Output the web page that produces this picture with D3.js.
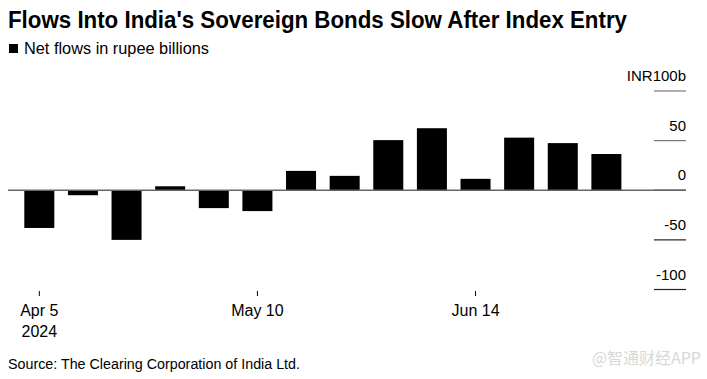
<!DOCTYPE html>
<html>
<head>
<meta charset="utf-8">
<script src="https://cdn.jsdelivr.net/npm/d3@7"></script>
<style>
  html, body { margin: 0; padding: 0; background: #fff; }
  svg { display: block; }
</style>
</head>
<body>
<svg id="chart" width="707" height="379"></svg>
<script>
const weeks = ["2024-04-05","2024-04-12","2024-04-19","2024-04-26","2024-05-03","2024-05-10","2024-05-17","2024-05-24","2024-05-31","2024-06-07","2024-06-14","2024-06-21","2024-06-28","2024-07-05"];
const netFlows = [-38, -5, -50, 4, -18, -21, 19.5, 14.5, 50.5, 62.5, 11.5, 53, 47.5, 36.5];
const yTicks = [100, 50, 0, -50, -100];
const yTickLabels = ["INR100b", "50", "0", "-50", "-100"];
const xTickWeeks = ["2024-04-05", "2024-05-10", "2024-06-14"];
const xTickLabels = [["Apr 5", "2024"], ["May 10"], ["Jun 14"]];
const title = "Flows Into India's Sovereign Bonds Slow After Index Entry";
const legendLabel = "Net flows in rupee billions";
const source = "Source: The Clearing Corporation of India Ltd.";
const watermark = "@智通财经APP";

const svg = d3.select("#chart");
const narrow = "'Liberation Sans Narrow', 'Arial Narrow', 'Liberation Sans', Arial, sans-serif";
const sans = "'Liberation Sans', Arial, sans-serif";

const x = d3.scaleBand().domain(weeks).range([17.5, 628.2]).paddingInner(0.312).paddingOuter(0.156);
const y = d3.scaleLinear().domain([-100, 100]).range([289.5, 91]);

// Title
svg.append("text").attr("x", 8).attr("y", 28)
  .attr("font-family", narrow).attr("font-weight", "bold").attr("font-size", 23.5)
  .attr("textLength", 619).attr("lengthAdjust", "spacingAndGlyphs")
  .attr("fill", "#000").text(title);

// Legend
svg.append("rect").attr("x", 9).attr("y", 44).attr("width", 9).attr("height", 9).attr("fill", "#000");
svg.append("text").attr("x", 24).attr("y", 54)
  .attr("font-family", narrow).attr("font-size", 16.5)
  .attr("textLength", 185).attr("lengthAdjust", "spacingAndGlyphs")
  .attr("fill", "#000").text(legendLabel);

// Y gridline stubs + labels
const yg = svg.append("g");
yTicks.forEach((t, i) => {
  yg.append("line").attr("x1", 654).attr("x2", 686)
    .attr("y1", y(t)).attr("y2", y(t))
    .attr("stroke", t > 0 ? "#777" : "#222").attr("stroke-width", 1.2);
  yg.append("text").attr("x", 686).attr("y", y(t) - 10)
    .attr("text-anchor", "end").attr("font-family", sans).attr("font-size", 15)
    .attr("fill", "#000").text(yTickLabels[i]);
});

// Bars
svg.append("g").selectAll("rect").data(weeks).join("rect")
  .attr("x", d => x(d))
  .attr("width", x.bandwidth())
  .attr("y", (d, i) => y(Math.max(0, netFlows[i])))
  .attr("height", (d, i) => Math.abs(y(netFlows[i]) - y(0)))
  .attr("fill", "#000");

// Zero line
svg.append("line").attr("x1", 8).attr("x2", 686).attr("y1", y(0)).attr("y2", y(0))
  .attr("stroke", "#666").attr("stroke-width", 1.5);

// X ticks
const xg = svg.append("g");
xTickWeeks.forEach((w, i) => {
  const cx = x(w) + x.bandwidth() / 2;
  xg.append("line").attr("x1", cx).attr("x2", cx).attr("y1", 291).attr("y2", 296)
    .attr("stroke", "#000").attr("stroke-width", 1);
  xTickLabels[i].forEach((lab, j) => {
    xg.append("text").attr("x", cx).attr("y", 316 + j * 21)
      .attr("text-anchor", "middle").attr("font-family", narrow).attr("font-size", 16)
      .attr("fill", "#000").text(lab);
  });
});

// Source
svg.append("text").attr("x", 8).attr("y", 369)
  .attr("font-family", narrow).attr("font-size", 15.5)
  .attr("textLength", 292).attr("lengthAdjust", "spacingAndGlyphs")
  .attr("fill", "#000").text(source);

// Watermark
svg.append("text").attr("x", 701).attr("y", 364).attr("text-anchor", "end")
  .attr("font-family", "'Noto Sans CJK SC', sans-serif").attr("font-size", 16)
  .attr("fill", "#d8d8d8").text(watermark);
</script>
</body>
</html>
